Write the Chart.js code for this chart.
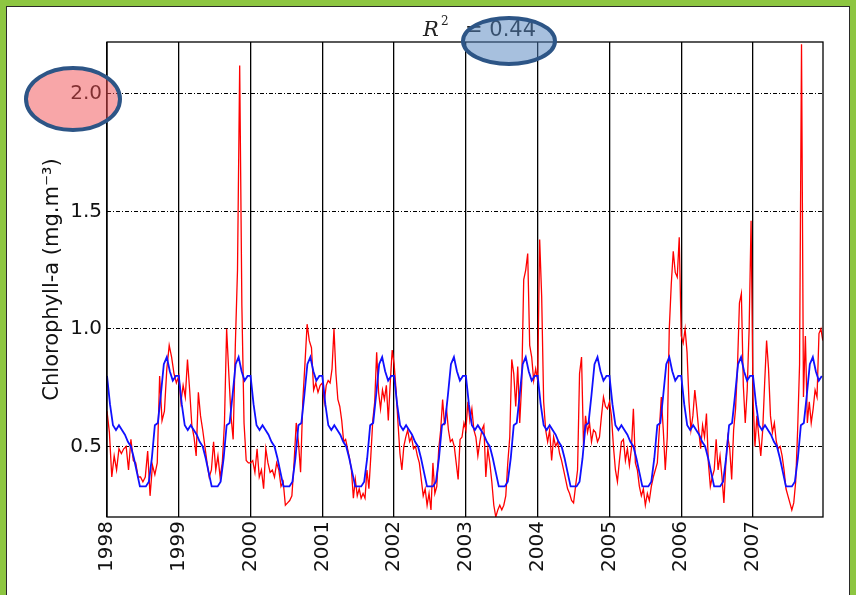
<!DOCTYPE html>
<html>
<head>
<meta charset="utf-8">
<script src="https://cdn.jsdelivr.net/npm/chart.js@4.4.0/dist/chart.umd.min.js"></script>
<style>
  html, body { margin: 0; padding: 0; }
  body { width: 856px; height: 595px; background: #8dc641; position: relative; overflow: hidden; }
  #panel { position: absolute; left: 6px; top: 6px; width: 842px; height: 600px; background: #fff; border: 1.5px solid #2a2a2a; }
  #myChart { position: absolute; left: 0; top: 0; }
</style>
</head>
<body>
<div id="panel"></div>
<canvas id="myChart" width="856" height="595"></canvas>
<script>
const years = [1998, 1999, 2000, 2001, 2002, 2003, 2004, 2005, 2006, 2007];
const yTicks = [0.5, 1.0, 1.5, 2.0];

// satellite chlorophyll, one array per year (evenly spread over the year)
const chl1998 = [0.65,0.56,0.37,0.46,0.40,0.49,0.47,0.49,0.50,0.40,0.53,0.44,0.43,0.37,0.37,0.35,0.37,0.48,0.29,0.42,0.38,0.43,0.80,0.61,0.65,0.83,0.93,0.88,0.81,0.77];
const chl1999 = [0.80,0.69,0.76,0.71,0.87,0.74,0.59,0.54,0.46,0.73,0.63,0.57,0.50,0.43,0.37,0.40,0.52,0.40,0.46,0.37,0.43,0.60,1.00,0.81,0.63,0.53,0.93,1.25,2.12,1.10,0.60,0.44,0.43];
const chl2000 = [0.43,0.44,0.39,0.49,0.37,0.40,0.32,0.49,0.43,0.39,0.40,0.37,0.43,0.40,0.33,0.35,0.25,0.26,0.27,0.29,0.43,0.60,0.52,0.39,0.69,0.85,1.02,0.95,0.92,0.74,0.77,0.73,0.76];
const chl2001 = [0.77,0.69,0.76,0.78,0.77,0.83,1.00,0.81,0.70,0.67,0.61,0.52,0.53,0.49,0.45,0.40,0.28,0.36,0.29,0.32,0.28,0.30,0.28,0.40,0.32,0.46,0.61,0.69,0.90,0.73,0.66,0.74,0.70,0.76,0.61,0.77,0.91];
const chl2002 = [0.85,0.74,0.60,0.47,0.40,0.50,0.54,0.57,0.52,0.54,0.49,0.50,0.46,0.43,0.36,0.29,0.32,0.25,0.30,0.23,0.43,0.30,0.33,0.49,0.57,0.70,0.59,0.66,0.57,0.52,0.53,0.50,0.43,0.36,0.53,0.54,0.60];
const chl2003 = [0.57,0.69,0.61,0.66,0.57,0.54,0.46,0.52,0.57,0.59,0.37,0.49,0.43,0.35,0.25,0.20,0.23,0.25,0.23,0.25,0.29,0.43,0.54,0.87,0.81,0.67,0.84,0.60,0.77,1.21,1.25,1.32,0.93,0.88,0.78,0.83];
const chl2004 = [0.78,1.38,1.14,0.69,0.57,0.52,0.57,0.44,0.54,0.50,0.52,0.47,0.44,0.40,0.36,0.32,0.30,0.27,0.26,0.33,0.40,0.81,0.88,0.50,0.63,0.56,0.60,0.52,0.57,0.56,0.52,0.54,0.63,0.71,0.67,0.66];
const chl2005 = [0.69,0.63,0.50,0.40,0.35,0.44,0.52,0.53,0.44,0.49,0.42,0.49,0.66,0.43,0.40,0.33,0.29,0.32,0.25,0.30,0.27,0.33,0.37,0.40,0.43,0.57,0.71,0.57,0.40,0.54,1.00,1.19,1.33,1.24,1.22,1.39];
const chl2006 = [0.97,0.94,1.00,0.90,0.69,0.57,0.63,0.74,0.66,0.57,0.49,0.59,0.54,0.64,0.43,0.33,0.37,0.40,0.53,0.40,0.46,0.37,0.26,0.43,0.54,0.49,0.36,0.57,0.66,0.84,1.11,1.15,0.76,0.60,0.74,1.00,1.46];
const chl2007 = [0.71,0.50,0.63,0.54,0.46,0.57,0.77,0.95,0.83,0.63,0.56,0.60,0.52,0.49,0.50,0.46,0.40,0.32,0.29,0.26,0.23,0.26,0.35,0.57,0.85,2.21,0.71,0.97,0.60,0.69,0.60,0.66,0.74,0.71,0.98,1.00,0.95];

// mean seasonal cycle, same every year
const climatology = [0.80,0.68,0.59,0.57,0.59,0.57,0.55,0.52,0.50,0.45,0.39,0.33,0.33,0.33,0.35,0.45,0.59,0.60,0.72,0.85,0.88,0.82,0.78,0.80];

const chlByYear = [chl1998, chl1999, chl2000, chl2001, chl2002, chl2003, chl2004, chl2005, chl2006, chl2007];

let observed = [];
chlByYear.forEach((vals, k) => {
    vals.forEach((v, i) => observed.push({x: years[k] + i / vals.length, y: v}));
});
let seasonal = [];
years.forEach(yr => {
    climatology.forEach((v, i) => seasonal.push({x: yr + i / climatology.length, y: v}));
});

const tickFont = {family: 'DejaVu Sans', size: 20};

// frame, title and the two highlight ovals
const extras = {
    id: 'extras',
    afterDatasetsDraw(chart) {
        const {ctx, chartArea: a} = chart;
        ctx.save();
        ctx.strokeStyle = '#000';
        ctx.lineWidth = 1.3;
        ctx.strokeRect(a.left, a.top, a.right - a.left, a.bottom - a.top);
        ctx.restore();
    },
    afterDraw(chart) {
        const ctx = chart.ctx;
        ctx.save();
        ctx.fillStyle = '#222';
        ctx.textBaseline = 'alphabetic';
        const base = 36;
        ctx.font = 'italic 21px "DejaVu Serif"';
        ctx.fillText('R', 423, base);
        ctx.font = '12px "DejaVu Serif"';
        ctx.fillText('2', 441, base - 11);
        ctx.font = '21px "DejaVu Sans"';
        ctx.fillText('= 0.44', 465, base);

        ctx.lineWidth = 4;
        ctx.strokeStyle = '#2d5586';
        ctx.beginPath();
        ctx.ellipse(73, 99, 47, 31, 0, 0, Math.PI * 2);
        ctx.fillStyle = 'rgba(242,78,82,0.5)';
        ctx.fill();
        ctx.stroke();
        ctx.beginPath();
        ctx.ellipse(509, 41, 46, 23, 0, 0, Math.PI * 2);
        ctx.fillStyle = 'rgba(80,130,190,0.5)';
        ctx.fill();
        ctx.stroke();
        ctx.restore();
    }
};

const chart = new Chart(document.getElementById('myChart'), {
    type: 'line',
    data: {
        datasets: [
            {data: seasonal, borderColor: '#1010ff', borderWidth: 1.8, pointRadius: 0, fill: false},
            {data: observed, borderColor: '#ff0000', borderWidth: 1.3, pointRadius: 0, fill: false}
        ]
    },
    options: {
        responsive: false,
        animation: false,
        layout: {padding: {top: 42, right: 33, left: 0, bottom: 0}},
        plugins: {legend: {display: false}, tooltip: {enabled: false}},
        scales: {
            x: {
                type: 'linear',
                min: 1998,
                max: 2007.975,
                afterBuildTicks: scale => { scale.ticks = years.map(v => ({value: v})); },
                afterFit: scale => { scale.height = 78; },
                grid: {color: '#000', lineWidth: 1.3, drawTicks: false},
                border: {display: false},
                ticks: {
                    autoSkip: false, minRotation: 90, maxRotation: 90, padding: 4,
                    color: '#111', font: tickFont,
                    callback: v => String(v)
                }
            },
            y: {
                min: 0.2,
                max: 2.22,
                afterBuildTicks: scale => { scale.ticks = yTicks.map(v => ({value: v})); },
                afterFit: scale => { scale.width = 107; },
                grid: {color: '#000', lineWidth: 1, drawTicks: false},
                border: {display: false, dash: [4, 2, 1, 2]},
                ticks: {
                    padding: 5, color: '#111', font: tickFont,
                    callback: v => v.toFixed(1)
                },
                title: {
                    display: true,
                    text: 'Chlorophyll-a (mg.m⁻³)',
                    color: '#111',
                    font: {family: 'DejaVu Sans', size: 21},
                    padding: {top: 40, bottom: 0}
                }
            }
        }
    },
    plugins: [extras]
});
</script>
</body>
</html>
